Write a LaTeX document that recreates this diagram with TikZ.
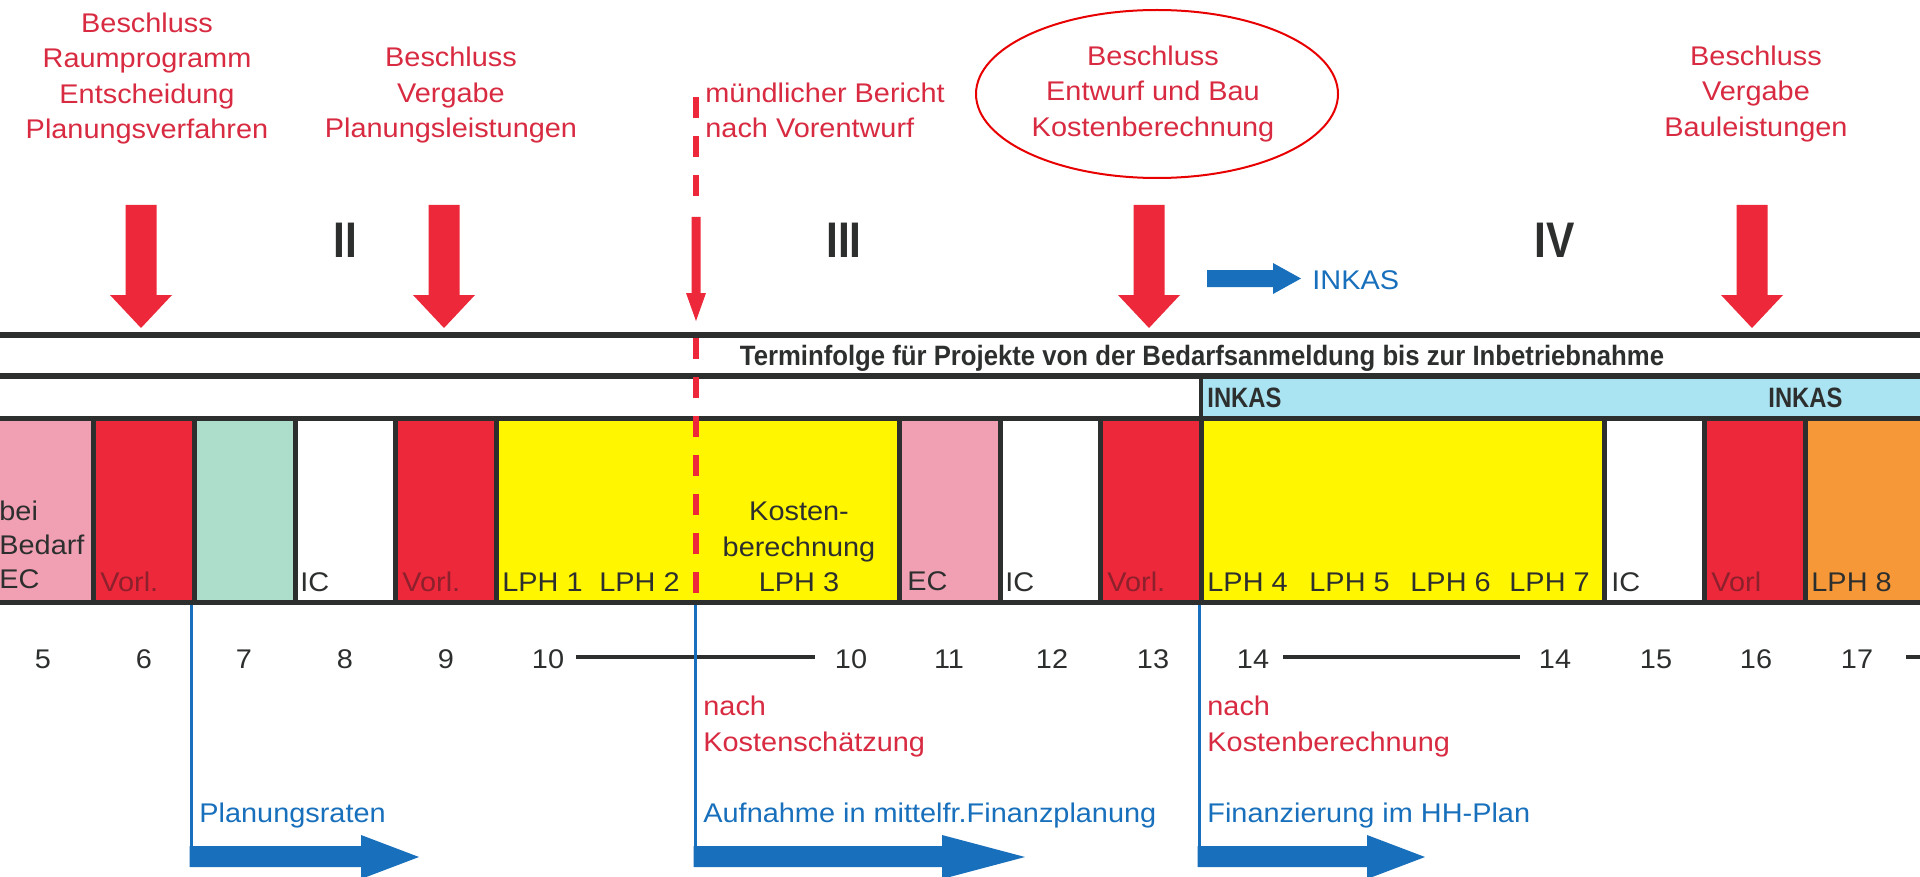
\documentclass[tikz,border=0pt]{standalone}
\usepackage{fontspec}
\usepackage{graphicx}
\setmainfont{Liberation Sans}
\newfontfamily\labfont[FakeStretch=1.07]{Liberation Sans}
\newfontfamily\condfont[FakeStretch=0.85]{Liberation Sans}
\definecolor{rdA}{RGB}{236,40,58}
\definecolor{rdT}{RGB}{216,42,64}
\definecolor{vorl}{RGB}{140,32,44}
\definecolor{pk}{RGB}{241,160,180}
\definecolor{mint}{RGB}{172,222,203}
\definecolor{yl}{RGB}{255,246,0}
\definecolor{org}{RGB}{246,152,56}
\definecolor{lbl}{RGB}{170,228,242}
\definecolor{blA}{RGB}{24,112,188}
\definecolor{dk}{RGB}{45,47,47}
\definecolor{ellred}{RGB}{232,0,0}
\newcommand\cbox[3]{\fill[#3] (#1,421) rectangle (#2,600);}
\newcommand\redDown[1]{\fill[rdA] (#1-15.5,205) -- (#1+15.5,205) -- (#1+15.5,295) -- (#1+31,295) -- (#1,328) -- (#1-31,295) -- (#1-15.5,295) -- cycle;}
\newcommand\blueRight[3]{\fill[blA] (#1,846) -- (#2,846) -- (#2,835) -- (#3,857) -- (#2,879) -- (#2,867) -- (#1,867) -- cycle;}
\begin{document}
\begin{tikzpicture}[x=0.5pt,y=-0.5pt,
  lab/.style={font=\labfont\fontsize{13.5}{17.7}\selectfont, inner sep=0pt},
  redlab/.style={lab, text=rdT},
  boxlab/.style={lab, text=dk, anchor=base west},
  vorllab/.style={lab, text=vorl, anchor=base west},
  num/.style={lab, text=dk, anchor=base},
  bluelab/.style={lab, text=blA, anchor=base west},
  roman/.style={font=\condfont\bfseries\fontsize{25}{25}\selectfont, text=dk, inner sep=0pt},
  inkas/.style={font=\condfont\bfseries\fontsize{14}{14}\selectfont, text=dk, inner sep=0pt, anchor=base west},
  bluelink/.style={draw=blA, line width=1.5pt},
  dashline/.style={draw=rdA, line width=3pt, dash pattern=on 10.5pt off 9pt},
  numline/.style={draw=dk, line width=2pt}]
\useasboundingbox (0,0) rectangle (1920,877);
\fill[white] (0,0) rectangle (1920,877);

% ---- top labels
\node[redlab, anchor=north, align=center] (l1) at (147,12.4) {Beschluss\\Raumprogramm\\Entscheidung\\Planungsverfahren};
\node[redlab, anchor=north, align=center] (l2) at (451,46.7) {Beschluss\\Vergabe\\Planungsleistungen};
\node[redlab, anchor=north west, align=left] (l3) at (705,82.4) {mündlicher Bericht\\nach Vorentwurf};
\node[redlab, anchor=north, align=center] (l4) at (1153,45.4) {Beschluss\\Entwurf und Bau\\Kostenberechnung};
\node[redlab, anchor=north, align=center] (l5) at (1756,45.4) {Beschluss\\Vergabe\\Bauleistungen};
\draw[ellred, line width=1pt] (1157,94) ellipse [x radius=181, y radius=84];

% ---- roman numerals
\node[roman] (r2) at (345,240) {II};
\node[roman] (r3) at (844,240) {III};
\node[roman] (r4) at (1555,240) {IV};

% ---- header band
\fill[dk] (0,332) rectangle (1920,338);
\fill[lbl] (1201,379) rectangle (1920,417);
\fill[dk] (0,373) rectangle (1920,379);
\fill[dk] (1199,373) rectangle (1203,420);
\fill[dk] (0,416) rectangle (1920,605);

% ---- boxes
\cbox{0}{91.2}{pk}
\cbox{96.2}{191.9}{rdA}
\cbox{196.9}{292.6}{mint}
\cbox{297.6}{393.3}{white}
\cbox{398.3}{494}{rdA}
\cbox{499}{896.8}{yl}
\cbox{901.8}{997.5}{pk}
\cbox{1002.5}{1098.2}{white}
\cbox{1103.2}{1198.9}{rdA}
\cbox{1203.9}{1601.7}{yl}
\cbox{1606.7}{1702.4}{white}
\cbox{1707.4}{1803.1}{rdA}
\cbox{1808.1}{1920}{org}

% ---- title and INKAS bar labels
\node[font=\condfont\bfseries\fontsize{14}{14}\selectfont, text=dk, inner sep=0pt, anchor=base] (title) at (1202,365)
  {\resizebox{462pt}{\height}{Terminfolge für Projekte von der Bedarfsanmeldung bis zur Inbetriebnahme}};
\node[inkas] (ik1) at (1207,407) {INKAS};
\node[inkas] (ik2) at (1768,407) {INKAS};

% ---- box labels
\node[lab, text=dk, anchor=north west, align=left, font=\labfont\fontsize{13.5}{17}\selectfont] (bei) at (-1,500.7) {bei\\Bedarf\\EC};
\node[vorllab] (v1) at (100,591) {Vorl.};
\node[boxlab] (ic1) at (300,591) {IC};
\node[vorllab] (v2) at (402,591) {Vorl.};
\node[boxlab] (lph1) at (502,591) {LPH 1};
\node[boxlab] (lph2) at (599,591) {LPH 2};
\node[lab, text=dk, anchor=north, align=center] (kb) at (799,501.7) {Kosten-\\berechnung\\LPH 3};
\node[boxlab] (ec2) at (907,590) {EC};
\node[boxlab] (ic2) at (1005,591) {IC};
\node[vorllab] (v3) at (1107,591) {Vorl.};
\node[boxlab] (lph4) at (1207,591) {LPH 4};
\node[boxlab] (lph5) at (1309,591) {LPH 5};
\node[boxlab] (lph6) at (1410,591) {LPH 6};
\node[boxlab] (lph7) at (1509,591) {LPH 7};
\node[boxlab] (ic3) at (1611,591) {IC};
\node[vorllab] (v4) at (1711,591) {Vorl};
\node[boxlab] (lph8) at (1811,591) {LPH 8};

% ---- red arrows and dashed line
\redDown{141}
\redDown{444}
\redDown{1149}
\redDown{1752}
\draw[dashline] (696,97) -- (696,205);
\draw[dashline] (696,338) -- (696,600);
\fill[rdA] (691.5,217) -- (700.5,217) -- (700.5,293) -- (706,293) -- (696,321) -- (686,293) -- (691.5,293) -- cycle;

% ---- blue INKAS arrow
\fill[blA] (1207,270) -- (1273,270) -- (1273,263) -- (1301,278.5) -- (1273,294) -- (1273,287) -- (1207,287) -- cycle;
\node[bluelab] (ik0) at (1312,289) {INKAS};

% ---- numbers
\node[num] (n5) at (43,668) {5};
\node[num] (n6) at (144,668) {6};
\node[num] (n7) at (244,668) {7};
\node[num] (n8) at (345,668) {8};
\node[num] (n9) at (446,668) {9};
\node[num] (n10a) at (548,668) {10};
\node[num] (n10b) at (851,668) {10};
\node[num] (n11) at (949,668) {11};
\node[num] (n12) at (1052,668) {12};
\node[num] (n13) at (1153,668) {13};
\node[num] (n14a) at (1253,668) {14};
\node[num] (n14b) at (1555,668) {14};
\node[num] (n15) at (1656,668) {15};
\node[num] (n16) at (1756,668) {16};
\node[num] (n17) at (1857,668) {17};
\coordinate (tenL) at (576,657);
\coordinate (tenR) at (815,657);
\coordinate (ftL) at (1283,657);
\coordinate (ftR) at (1520,657);
\coordinate (svL) at (1906,657);
\coordinate (svR) at (1920,657);
\draw[numline] (tenL) -- (tenR);
\draw[numline] (ftL) -- (ftR);
\draw[numline] (svL) -- (svR);

% ---- bottom blue links and arrows
\coordinate (p1) at (191,605);
\coordinate (p1e) at (191,857);
\coordinate (p2) at (695,605);
\coordinate (p2e) at (695,857);
\coordinate (p3) at (1199,605);
\coordinate (p3e) at (1199,857);
\draw[bluelink] (p1) -- (p1e);
\draw[bluelink] (p2) -- (p2e);
\draw[bluelink] (p3) -- (p3e);
\blueRight{189.5}{361}{419}
\blueRight{693.5}{942}{1025}
\blueRight{1197.5}{1367}{1425}

\node[redlab, anchor=north west, align=left] (nk1) at (703,695.7) {nach\\Kostenschätzung};
\node[redlab, anchor=north west, align=left] (nk2) at (1207,695.7) {nach\\Kostenberechnung};
\node[bluelab] (b1) at (199,822) {Planungsraten};
\node[bluelab] (b2) at (703,822) {Aufnahme in mittelfr.Finanzplanung};
\node[bluelab] (b3) at (1207,822) {Finanzierung im HH-Plan};
\end{tikzpicture}
\end{document}
